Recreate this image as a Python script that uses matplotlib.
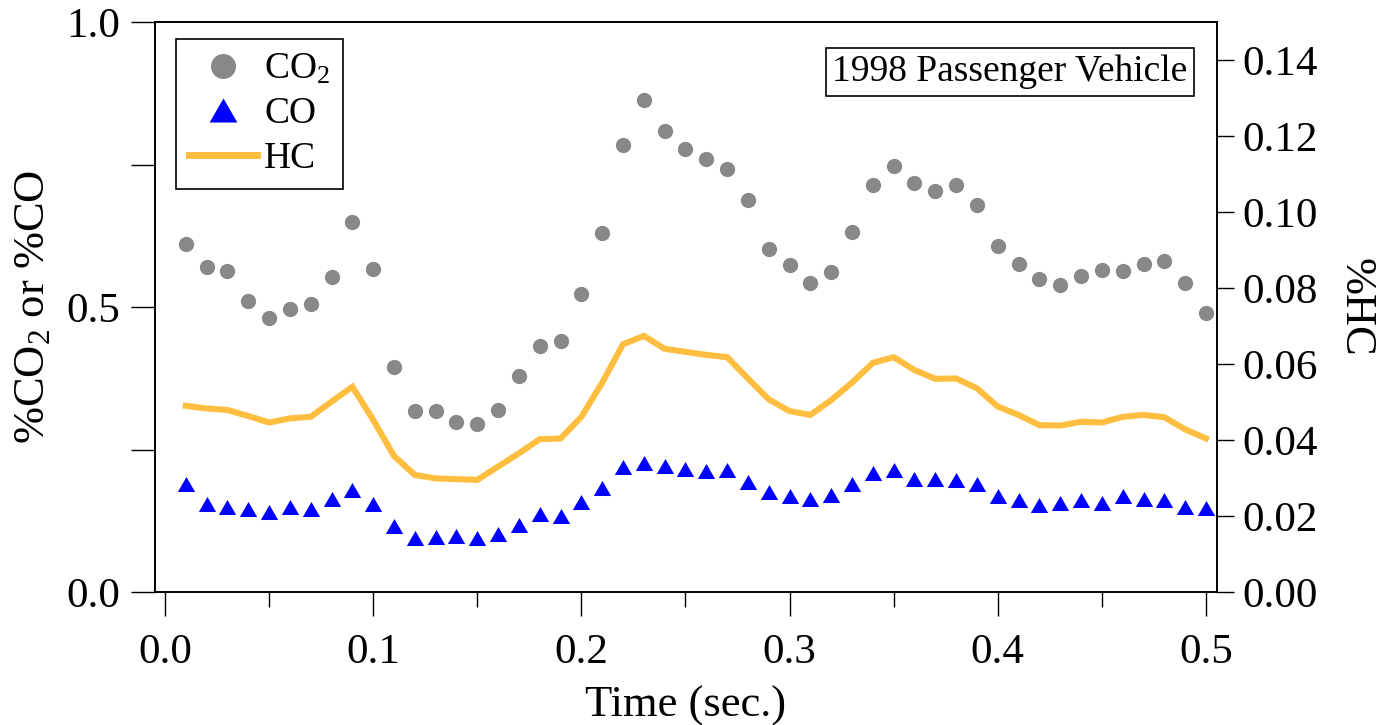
import matplotlib
matplotlib.use("Agg")
import matplotlib.pyplot as plt
from matplotlib.ticker import MultipleLocator, FixedLocator
from matplotlib.lines import Line2D

plt.rcParams['font.family'] = ['Liberation Serif', 'DejaVu Serif']
plt.rcParams['mathtext.fontset'] = 'custom'
plt.rcParams['mathtext.rm'] = 'Liberation Serif'
plt.rcParams['mathtext.default'] = 'regular'

time_s = [0.01, 0.02, 0.03, 0.04, 0.05, 0.06, 0.07, 0.08, 0.09, 0.10,
          0.11, 0.12, 0.13, 0.14, 0.15, 0.16, 0.17, 0.18, 0.19, 0.20,
          0.21, 0.22, 0.23, 0.24, 0.25, 0.26, 0.27, 0.28, 0.29, 0.30,
          0.31, 0.32, 0.33, 0.34, 0.35, 0.36, 0.37, 0.38, 0.39, 0.40,
          0.41, 0.42, 0.43, 0.44, 0.45, 0.46, 0.47, 0.48, 0.49, 0.50]

co2 = [0.611, 0.571, 0.564, 0.511, 0.481, 0.497, 0.505, 0.552, 0.649, 0.567,
       0.394, 0.317, 0.318, 0.298, 0.295, 0.320, 0.379, 0.432, 0.441, 0.523,
       0.630, 0.785, 0.863, 0.809, 0.778, 0.759, 0.742, 0.687, 0.601, 0.574,
       0.542, 0.561, 0.632, 0.714, 0.747, 0.717, 0.704, 0.714, 0.679, 0.607,
       0.575, 0.549, 0.539, 0.555, 0.565, 0.563, 0.575, 0.581, 0.542, 0.489]

co = [0.190, 0.154, 0.150, 0.145, 0.141, 0.149, 0.146, 0.163, 0.179, 0.154,
      0.115, 0.094, 0.096, 0.099, 0.094, 0.102, 0.118, 0.137, 0.133, 0.158,
      0.183, 0.219, 0.226, 0.221, 0.215, 0.212, 0.214, 0.193, 0.175, 0.168,
      0.164, 0.170, 0.189, 0.208, 0.214, 0.198, 0.198, 0.196, 0.190, 0.168,
      0.162, 0.152, 0.156, 0.161, 0.157, 0.168, 0.164, 0.161, 0.149, 0.148]

hc = [0.0490, 0.0483, 0.0479, 0.0463, 0.0446, 0.0457, 0.0461, 0.0501, 0.0540, 0.0453,
      0.0358, 0.0308, 0.0299, 0.0297, 0.0295, 0.0330, 0.0365, 0.0402, 0.0404, 0.0461,
      0.0551, 0.0652, 0.0674, 0.0640, 0.0632, 0.0624, 0.0618, 0.0562, 0.0507, 0.0476,
      0.0466, 0.0505, 0.0551, 0.0603, 0.0618, 0.0584, 0.0561, 0.0562, 0.0536, 0.0488,
      0.0466, 0.0439, 0.0438, 0.0448, 0.0446, 0.0461, 0.0466, 0.0460, 0.0428, 0.0404]

gray = '#888888'
blue = '#0000ff'
orange = '#ffbe40'
tri = [(0, 0.866), (-1, -0.866), (1, -0.866)]

fig = plt.figure(figsize=(13.86, 7.25), dpi=100)
ax = fig.add_axes([155/1386, 1-592/725, (1217-155)/1386, (592-22)/725])
ax2 = ax.twinx()

ax.plot(time_s, co2, ls='none', marker='o', ms=11, color=gray, mec='none')
ax.plot(time_s, co, ls='none', marker=tri, ms=12.5, color=blue, mec='none')
ax2.plot(time_s, hc, color=orange, lw=4.4, solid_joinstyle='miter')

ax.set_xlim(-0.0048, 0.5053)
ax.set_ylim(0, 1.0)
ax2.set_ylim(0, 0.15)

ax.xaxis.set_major_locator(MultipleLocator(0.1))
ax.xaxis.set_minor_locator(MultipleLocator(0.05))
ax.yaxis.set_major_locator(FixedLocator([0, 0.5, 1.0]))
ax.yaxis.set_minor_locator(FixedLocator([0.25, 0.75]))
ax2.yaxis.set_major_locator(FixedLocator([0, 0.02, 0.04, 0.06, 0.08, 0.10, 0.12, 0.14]))
ax.xaxis.set_major_formatter(lambda v, p: f'{v:.1f}')
ax.yaxis.set_major_formatter(lambda v, p: f'{v:.1f}')
ax2.yaxis.set_major_formatter(lambda v, p: f'{v:.2f}')

fs_tick = 31
ax.tick_params(axis='x', which='major', direction='out', length=17, width=1, labelsize=fs_tick, pad=13)
ax.tick_params(axis='x', which='minor', direction='out', length=11, width=1)
ax.tick_params(axis='y', which='major', direction='out', length=17, width=1, labelsize=fs_tick, pad=8)
ax.tick_params(axis='y', which='minor', direction='out', length=17, width=1)
ax2.tick_params(axis='y', direction='out', length=12, width=1, labelsize=fs_tick, pad=6)
for a in (ax, ax2):
    for s in a.spines.values():
        s.set_linewidth(1.2)

ax.set_xlabel('Time (sec.)', fontsize=32, labelpad=10)
ax.set_ylabel('%CO$_2$ or %CO', fontsize=32, labelpad=10)
ax2.set_ylabel('%HC', fontsize=32, rotation=270, labelpad=42)

ax.text(0.805, 0.912, '1998 Passenger Vehicle', transform=ax.transAxes,
        ha='center', va='center', fontsize=27,
        bbox=dict(boxstyle='square,pad=0.18', fc='white', ec='black', lw=1.2))

# legend symbols are drawn larger than the plotted ones
handles = [Line2D([], [], ls='none', marker='o', ms=18, color=gray, mec='none'),
           Line2D([], [], ls='none', marker=tri, ms=20, color=blue, mec='none'),
           Line2D([], [], color=orange, lw=5)]
leg = ax2.legend(handles, ['CO$_2$', 'CO', 'HC'], loc='upper left',
                 bbox_to_anchor=(0.0198, 0.970), borderaxespad=0, fontsize=27,
                 frameon=True, fancybox=False, edgecolor='black', framealpha=1,
                 handlelength=1.8, handletextpad=0.2, borderpad=0.35, labelspacing=0.27)
leg.get_frame().set_linewidth(1.2)

fig.savefig('out.png', dpi=100)
